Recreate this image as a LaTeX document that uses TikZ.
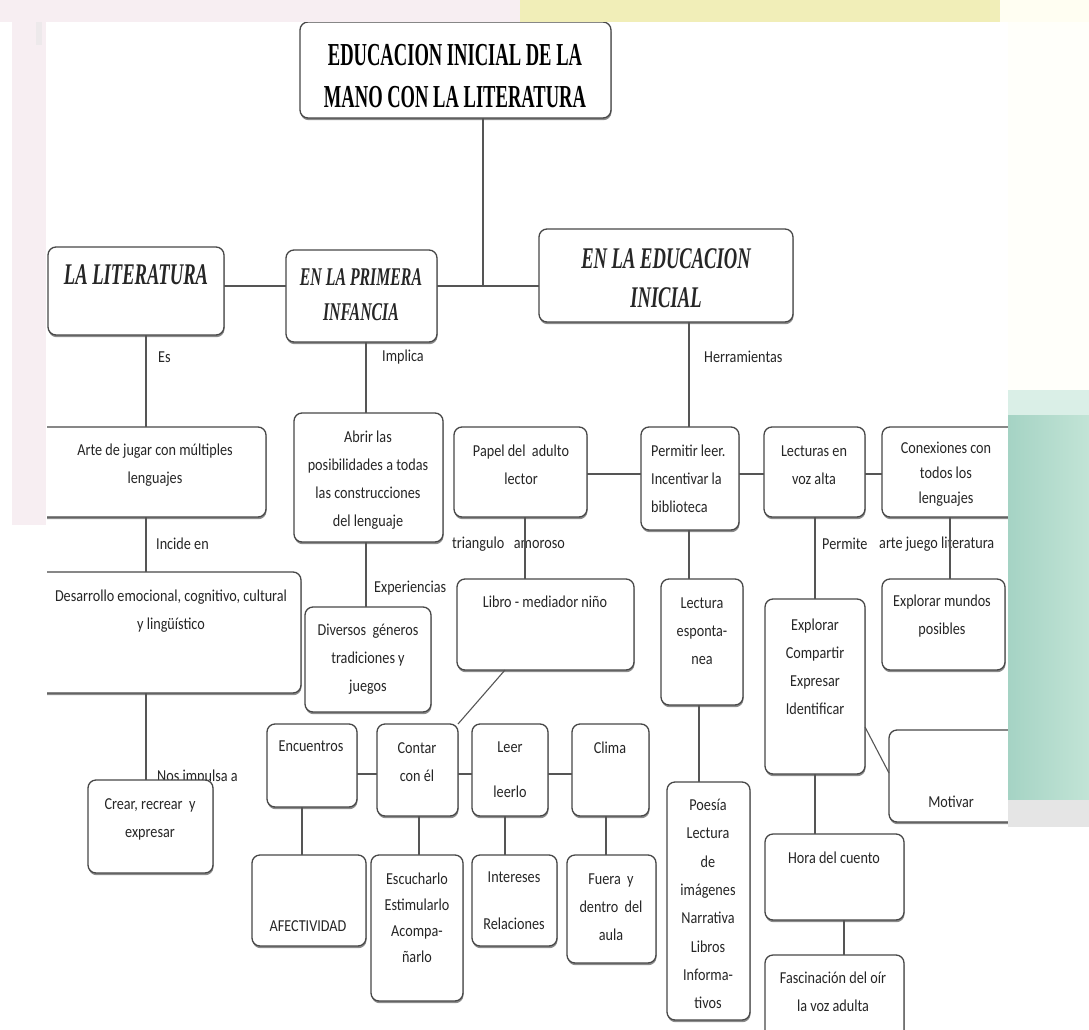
\documentclass[tikz,border=0pt]{standalone}
\usepackage{fontspec}
\usetikzlibrary{shadows,calc}
\newfontfamily\ttlfont[FakeStretch=0.58]{Liberation Serif}
\newfontfamily\hdfont[FakeStretch=0.62]{Liberation Serif}
\newfontfamily\bdyfont[FakeStretch=0.85]{Carlito}
\definecolor{ln}{HTML}{555555}
\definecolor{bd}{HTML}{474747}
\definecolor{tx}{HTML}{262626}
\definecolor{pinkband}{HTML}{F7EEF2}
\definecolor{yelband}{HTML}{F1EEB8}
\definecolor{teal1}{HTML}{A5D3C4}
\definecolor{teal2}{HTML}{C2E4D6}
\tikzset{
  bx/.style={draw=bd, line width=1.3pt, rounded corners=8pt, fill=white, inner sep=0pt, outer sep=0pt,
    drop shadow={shadow xshift=0.5pt, shadow yshift=-2.2pt, fill=black, opacity=0.45}},
  cn/.style={draw=ln, line width=1.1pt},
  tb/.style={text=tx, font=\bdyfont\fontsize{16.7}{28}\selectfont, align=center, inner sep=0pt},
  lb/.style={tb, anchor=west},
  ttl/.style={text=black, font=\ttlfont\bfseries\fontsize{32}{42}\selectfont, align=center, inner sep=0pt},
  hd/.style={text=black!85, font=\hdfont\bfseries\itshape\fontsize{30}{39}\selectfont, align=center, inner sep=0pt},
}
\newcommand\mkbox[5]{\node[bx, minimum width={(#4)-(#2)}, minimum height={(#5)-(#3)}] (#1) at ({((#2)+(#4))/2},{((#3)+(#5))/2}) {};}
\begin{document}
\begin{tikzpicture}[x=1pt,y=-1pt]
\path[use as bounding box] (0,0) rectangle (1089,1030);
\clip (0,0) rectangle (1089,1030);
\fill[white] (0,0) rectangle (1089,1030);

% labels on connectors
\node[lb] (l-es) at (158,357) {Es};
\node[lb] (l-impl) at (382,357) {Implica};
\node[lb] (l-herr) at (704,357) {Herramientas};
\node[lb] (l-inc) at (156,544) {Incide en};
\node[lb] (l-exp) at (374,588) {Experiencias};
\node[lb] (l-tri) at (452,544) {triangulo\ \ \ amoroso};
\node[lb] (l-perm) at (822,544) {Permite};
\node[lb] (l-arte) at (879,544) {arte juego literatura};
\node[lb] (l-nos) at (157,777) {Nos impulsa a};

% helper coordinates
\coordinate (J) at (483,286);
\coordinate (H1) at (0,474);
\coordinate (H2) at (0,774);
\coordinate (X146) at (146,0);
\coordinate (X366) at (366,0);
\coordinate (X689) at (689,0);
\coordinate (X525) at (525,0);
\coordinate (X815) at (815,0);
\coordinate (X950) at (950,0);
\coordinate (X699) at (699,0);
\coordinate (X505) at (505,0);
\coordinate (X302) at (302,0);
\coordinate (X419) at (419,0);
\coordinate (X606) at (606,0);
\coordinate (X844) at (844,0);
\coordinate (Y727) at (0,727);
\coordinate (Y773) at (0,773);

% boxes
\mkbox{title}{300}{22}{611}{118}
\mkbox{lit}{48}{247}{224}{335}
\mkbox{prim}{286}{250}{437}{342}
\mkbox{edu}{539}{229}{793}{322}
\mkbox{arte}{25}{427}{266}{517}
\mkbox{abrir}{294}{413}{443}{542}
\mkbox{papel}{454}{427}{587}{517}
\mkbox{perm}{641}{427}{739}{530}
\mkbox{lect}{764}{427}{865}{517}
\mkbox{conex}{882}{427}{1030}{517}
\mkbox{des}{25}{572}{301}{693}
\mkbox{div}{305}{607}{431}{712}
\mkbox{libro}{457}{579}{634}{670}
\mkbox{lesp}{661}{579}{743}{705}
\mkbox{expl}{765}{599}{865}{774}
\mkbox{expm}{882}{579}{1005}{670}
\mkbox{crear}{88}{780}{213}{873}
\mkbox{enc}{267}{724}{357}{807}
\mkbox{contar}{377}{724}{458}{816}
\mkbox{leer}{472}{724}{548}{816}
\mkbox{clima}{572}{724}{649}{816}
\mkbox{motiv}{889}{730}{1030}{822}
\mkbox{afect}{252}{855}{366}{946}
\mkbox{escu}{371}{855}{463}{1001}
\mkbox{inter}{472}{855}{557}{946}
\mkbox{fuera}{567}{855}{656}{963}
\mkbox{poesia}{667}{782}{750}{1020}
\mkbox{hora}{765}{834}{904}{920}
\mkbox{fasc}{765}{955}{904}{1050}

% connectors
\draw[cn] (title.south -| J) -- (J);
\draw[cn] (lit.east |- J) -- (prim.west |- J);
\draw[cn] (prim.east |- J) -- (edu.west |- J);
\draw[cn] (X146 |- lit.south) -- (X146 |- arte.north);
\draw[cn] (X366 |- prim.south) -- (X366 |- abrir.north);
\draw[cn] (X689 |- edu.south) -- (X689 |- perm.north);
\draw[cn] (papel.east |- H1) -- (perm.west |- H1);
\draw[cn] (perm.east |- H1) -- (lect.west |- H1);
\draw[cn] (lect.east |- H1) -- (conex.west |- H1);
\draw[cn] (X146 |- arte.south) -- (X146 |- des.north);
\draw[cn] (X366 |- abrir.south) -- (X366 |- div.north);
\draw[cn] (X525 |- papel.south) -- (X525 |- libro.north);
\draw[cn] (X689 |- perm.south) -- (X689 |- lesp.north);
\draw[cn] (X815 |- lect.south) -- (X815 |- expl.north);
\draw[cn] (X950 |- conex.south) -- (X950 |- expm.north);
\draw[cn] (X146 |- des.south) -- (X146 |- crear.north);
\draw[cn] (enc.east |- H2) -- (contar.west |- H2);
\draw[cn] (contar.east |- H2) -- (leer.west |- H2);
\draw[cn] (leer.east |- H2) -- (clima.west |- H2);
\draw[cn] (X505 |- libro.south) -- (contar.north east);
\draw[cn] (expl.east |- Y727) -- (motiv.west |- Y773);
\draw[cn] (X699 |- lesp.south) -- (X699 |- poesia.north);
\draw[cn] (X815 |- expl.south) -- (X815 |- hora.north);
\draw[cn] (X302 |- enc.south) -- (X302 |- afect.north);
\draw[cn] (X419 |- contar.south) -- (X419 |- escu.north);
\draw[cn] (X505 |- leer.south) -- (X505 |- inter.north);
\draw[cn] (X606 |- clima.south) -- (X606 |- fuera.north);
\draw[cn] (X844 |- hora.south) -- (X844 |- fasc.north);

% texts
\node[ttl] (title-t) at (455,76) {EDUCACION INICIAL DE LA\\MANO CON LA LITERATURA};
\node[hd] (lit-t) at (136,275) {LA LITERATURA};
\node[hd, font=\hdfont\bfseries\itshape\fontsize{25.5}{35}\selectfont] (prim-t) at (361,295) {EN LA PRIMERA\\INFANCIA};
\node[hd] (edu-t) at (666,278) {EN LA EDUCACION\\INICIAL};
\node[tb] (arte-t) at (155,465) {Arte de jugar con múltiples\\lenguajes};
\node[tb] (abrir-t) at (368,480) {Abrir las\\posibilidades a todas\\las construcciones\\del lenguaje};
\node[tb] (papel-t) at (521,465) {Papel del\ \ adulto\\lector};
\node[tb, align=left, anchor=west] (perm-t) at (651,479) {Permitir leer.\\Incentivar la\\biblioteca};
\node[tb] (lect-t) at (814,465) {Lecturas en\\voz alta};
\node[tb, font=\bdyfont\fontsize{16.7}{25}\selectfont] (conex-t) at (946,474) {Conexiones con\\todos los\\lenguajes};
\node[tb] (des-t) at (171,611) {Desarrollo emocional, cognitivo, cultural\\y lingüístico};
\node[tb] (div-t) at (368,659) {Diversos\ \ géneros\\tradiciones y\\juegos};
\node[tb] (libro-t) at (545,602) {Libro - mediador niño};
\node[tb] (lesp-t) at (702,631) {Lectura\\esponta-\\nea};
\node[tb] (expl-t) at (815,667) {Explorar\\Compartir\\Expresar\\Identificar};
\node[tb] (expm-t) at (942,616) {Explorar mundos\\posibles};
\node[tb] (crear-t) at (150,819) {Crear, recrear\ \ y\\expresar};
\node[tb] (enc-t) at (311,746) {Encuentros};
\node[tb] (contar-t) at (417,762) {Contar\\con él};
\node[tb] (leer-t) at (510,770) {Leer\\[17pt]leerlo};
\node[tb] (clima-t) at (610,748) {Clima};
\node[tb] (motiv-t) at (951,802) {Motivar};
\node[tb] (afect-t) at (308,926) {AFECTIVIDAD};
\node[tb, font=\bdyfont\fontsize{16.7}{26}\selectfont] (escu-t) at (417,918) {Escucharlo\\Estimularlo\\Acompa-\\ñarlo};
\node[tb] (inter-t) at (514,901) {Intereses\\[19pt]Relaciones};
\node[tb] (fuera-t) at (611,907) {Fuera\ \ y\\dentro\ \ del\\aula};
\node[tb, font=\bdyfont\fontsize{16.7}{28.3}\selectfont] (poesia-t) at (708,904) {Poesía\\Lectura\\de\\imágenes\\Narrativa\\Libros\\Informa-\\tivos};
\node[tb] (hora-t) at (834,858) {Hora del cuento};
\node[tb] (fasc-t) at (833,992) {Fascinación del oír\\la voz adulta};

% frame decoration
\fill[white] (0,22) rectangle (47,1030);
\fill[pinkband] (12,0) rectangle (46,525);
\fill[black!10, opacity=0.5] (36,0) rectangle (42,45);
\fill[pinkband] (0,0) rectangle (520,22);
\fill[yelband] (520,0) rectangle (1000,22);
\fill[yellow!5] (1000,0) rectangle (1089,22);
\fill[yellow!2] (1008,22) rectangle (1089,390);
\fill[white] (1008,390) rectangle (1089,830);
\shade[left color=teal1, right color=teal2] (1008,415) rectangle (1089,800);
\fill[teal2!60] (1008,390) rectangle (1089,415);
\fill[gray!20] (1008,800) rectangle (1089,827);
\end{tikzpicture}
\end{document}
